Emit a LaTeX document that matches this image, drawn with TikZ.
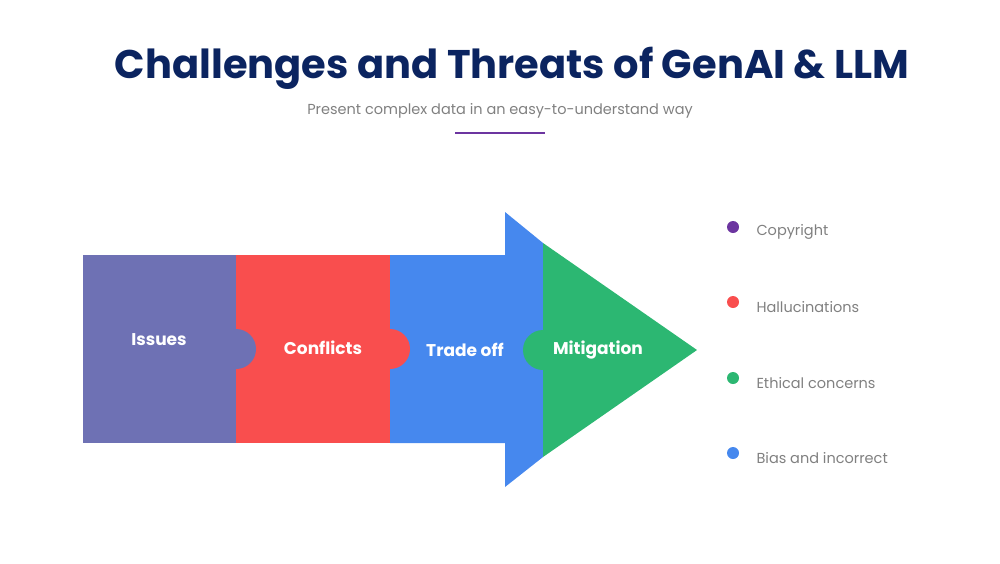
\documentclass[tikz,border=0pt]{standalone}
\usepackage{fontspec}
\setmainfont{Poppins}
\definecolor{navy}{HTML}{0B2460}
\definecolor{cpurple}{HTML}{6E71B4}
\definecolor{cred}{HTML}{F94E4E}
\definecolor{cblue}{HTML}{4688EE}
\definecolor{cgreen}{HTML}{2CB772}
\definecolor{cviolet}{HTML}{6C35A0}
\tikzset{
  label/.style={text=white,font=\bfseries\fontsize{17}{20}\selectfont},
  dot/.style={circle,inner sep=0pt,minimum size=12pt},
  item/.style={anchor=west,text=gray,font=\fontsize{14.5}{17}\selectfont}
}
\begin{document}
\begin{tikzpicture}[x=1pt,y=-1pt]
  \useasboundingbox (0,0) rectangle (1000,563);
  \node[text=navy,font=\bfseries\fontsize{40}{46}\selectfont] (title) at (512,68) {Challenges and Threats of GenAI \& LLM};
  \node[text=gray,font=\fontsize{14.5}{17}\selectfont] (sub) at (500,111) {Present complex data in an easy-to-understand way};
  \draw[cviolet,line width=2pt] (455,133) -- (545,133);

  % arrow pieces
  \fill[cblue] (390,255) -- (505,255) -- (505,212) -- (543,243) -- (543,457) -- (505,487) -- (505,443) -- (390,443) -- cycle;
  \fill[cred] (236,255) rectangle (390,443);
  \fill[cred] (390,349) circle (20);
  \fill[cpurple] (83,255) rectangle (236,443);
  \fill[cpurple] (236,349) circle (20);
  \fill[cgreen] (543,243) -- (697,350) -- (543,457) -- cycle;
  \fill[cgreen] (543,350) circle (20);

  \node[label] (issues) at (159,340) {Issues};
  \node[label] (conflicts) at (323,348) {Conflicts};
  \node[label] (tradeoff) at (465,350) {Trade off};
  \node[label] (mitigation) at (598,350) {Mitigation};

  % legend
  \foreach \y/\c/\t [count=\i] in {227/cviolet/Copyright,302/cred/Hallucinations,378/cgreen/Ethical concerns,453/cblue/Bias and incorrect}{
    \node[dot,fill=\c] (dot\i) at (733,\y) {};
    \node[item] (item\i) at (753,\y+5) {\t};
  }
\end{tikzpicture}
\end{document}
